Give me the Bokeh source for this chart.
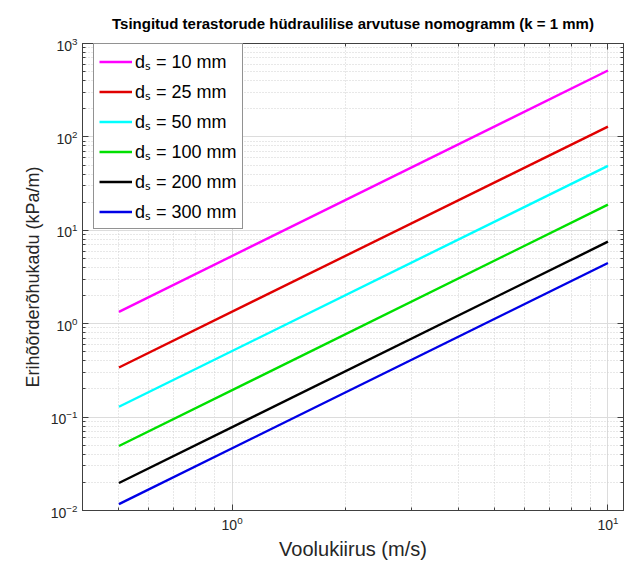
from bokeh.plotting import figure
from bokeh.models import (FixedTicker, LogAxis, Legend, LegendItem, Range1d)
from bokeh.embed import file_html
from bokeh.resources import INLINE

# ---- data ----
velocity = [0.5, 10.0]                      # m/s
labels = ["dₛ = 10 mm", "dₛ = 25 mm", "dₛ = 50 mm",
          "dₛ = 100 mm", "dₛ = 200 mm", "dₛ = 300 mm"]
loss_10 = [1.34, 514.0]                     # kPa/m
loss_25 = [0.34, 129.0]
loss_50 = [0.129, 49.0]
loss_100 = [0.049, 18.8]
loss_200 = [0.0197, 7.55]
loss_300 = [0.0117, 4.47]
series = [loss_10, loss_25, loss_50, loss_100, loss_200, loss_300]
colors = ["#ff00ff", "#e00000", "#00ffff", "#00e000", "#000000", "#0000e6"]

x_major = [1, 10]
x_minor = [0.4, 0.5, 0.6, 0.7, 0.8, 0.9, 2, 3, 4, 5, 6, 7, 8, 9]
y_major = [0.01, 0.1, 1, 10, 100, 1000]
y_minor = [m * d for d in [0.01, 0.1, 1, 10, 100] for m in range(2, 10)]

FONT = "Liberation Sans"
TXT = "#262626"

p = figure(width=625, height=565, x_axis_type="log", y_axis_type="log",
           x_range=Range1d(0.4, 11), y_range=Range1d(0.01, 1000),
           output_backend="svg", toolbar_location=None,
           title="Tsingitud terastorude hüdraulilise arvutuse nomogramm (k = 1 mm)")
p.min_border_left = 82
p.min_border_right = 2
p.min_border_top = 43
p.min_border_bottom = 55

p.title.align = "center"
p.title.text_font = FONT
p.title.text_font_style = "bold"
p.title.text_font_size = "15px"
p.title.text_color = "#000000"
p.title.standoff = 23

xt = FixedTicker(ticks=x_major, minor_ticks=x_minor)
yt = FixedTicker(ticks=y_major, minor_ticks=y_minor)

def style_axis(ax, show_labels=True):
    ax.major_tick_in = 6
    ax.major_tick_out = 0
    ax.minor_tick_in = 3
    ax.minor_tick_out = 0
    ax.axis_line_color = "#404040"
    ax.major_tick_line_color = "#404040"
    ax.minor_tick_line_color = "#404040"
    ax.major_label_text_font = FONT
    ax.major_label_text_font_size = "14px" if show_labels else "1px"
    ax.major_label_text_color = TXT
    ax.axis_label_text_font = FONT
    ax.axis_label_text_font_style = "normal"
    ax.axis_label_text_font_size = "18px"
    ax.axis_label_text_color = TXT
    if not show_labels:
        ax.major_label_standoff = 0
        ax.major_label_text_alpha = 0

p.xaxis.ticker = xt
p.yaxis.ticker = yt
style_axis(p.xaxis[0])
style_axis(p.yaxis[0])
p.xaxis.axis_label = "Voolukiirus (m/s)"
p.xaxis.axis_label_text_font_size = "20px"
p.yaxis.axis_label = "Erihõõrderõhukadu (kPa/m)"

ax_r = LogAxis(ticker=yt)
style_axis(ax_r, False)
p.add_layout(ax_r, "right")
ax_t = LogAxis(ticker=xt)
style_axis(ax_t, False)
p.add_layout(ax_t, "above")

for g in (p.xgrid[0], p.ygrid[0]):
    g.grid_line_color = "#dcdcdc"
    g.grid_line_width = 1
    g.minor_grid_line_color = "#d0d0d0"
    g.minor_grid_line_dash = "1 2"
    g.minor_grid_line_width = 1
p.xgrid.ticker = xt
p.ygrid.ticker = yt
p.outline_line_color = "#404040"

items = []
for lab, ys, c in zip(labels, series, colors):
    r = p.line(velocity, ys, line_color=c, line_width=2.4)
    items.append(LegendItem(label=lab, renderers=[r]))

leg = Legend(items=items, location=(11, 281))
leg.label_text_font = FONT
leg.label_text_font_size = "18px"
leg.label_text_color = "#000000"
leg.glyph_width = 33
leg.glyph_height = 23
leg.label_height = 23
leg.label_standoff = 3
leg.spacing = 6
leg.padding = 5
leg.margin = 0
leg.border_line_color = "#262626"
leg.border_line_width = 1
leg.background_fill_alpha = 1
p.add_layout(leg, "center")

open("out.html", "w").write(file_html(p, INLINE))
